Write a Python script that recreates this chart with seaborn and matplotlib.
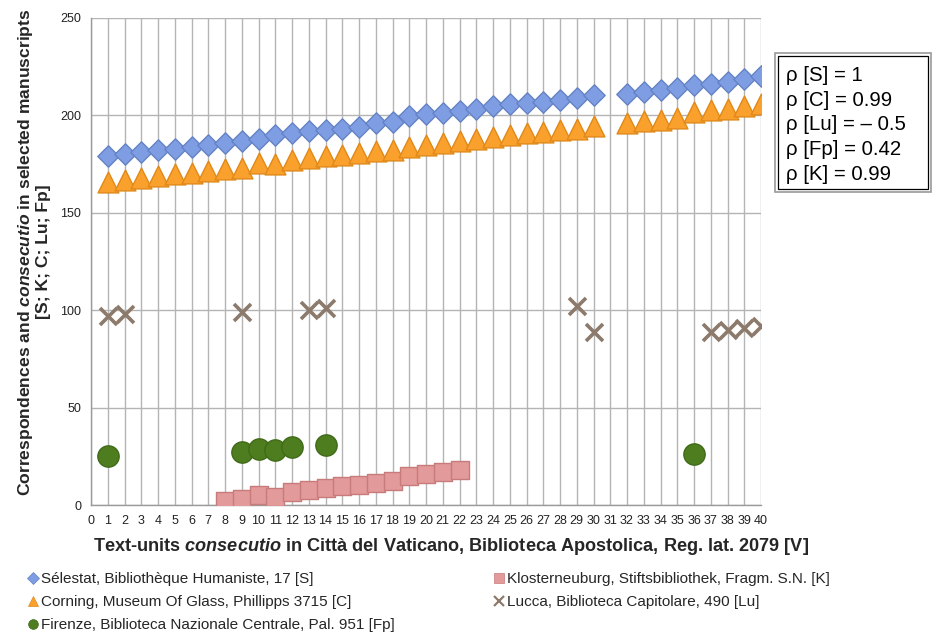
import matplotlib
matplotlib.use("Agg")
import matplotlib.pyplot as plt
import seaborn as sns
import pandas as pd
from matplotlib.patches import Rectangle
from matplotlib.lines import Line2D

# ---- data ----
s_x = [1, 2, 3, 4, 5, 6, 7, 8, 9, 10, 11, 12, 13, 14, 15, 16, 17, 18, 19, 20,
       21, 22, 23, 24, 25, 26, 27, 28, 29, 30, 32, 33, 34, 35, 36, 37, 38, 39, 40]
s_y = [179, 180, 181, 182, 183, 184, 185, 186, 187, 188, 190, 191, 192, 192.5, 193, 194, 196, 196.5, 199.5, 200.5,
       201, 202.5, 203.5, 205, 206, 206.5, 207, 208, 209, 210.5, 211, 212, 213, 214, 215.5, 216, 217, 218.5, 220]
c_x = s_x
c_y = [166, 167, 168, 169, 170, 170.5, 171.5, 172.5, 173, 175.5, 175, 177, 178, 179, 179.5, 180.5, 181.5, 182, 184, 185,
       186, 187, 188, 189, 190, 191, 191.5, 192.5, 193, 194.5, 196, 197, 197.5, 198.5, 202, 203, 203.5, 205, 206]
k_x = [8, 9, 10, 11, 12, 13, 14, 15, 16, 17, 18, 19, 20, 21, 22]
k_y = [2, 3, 5, 4, 6.5, 7.5, 8.5, 9.5, 10.5, 11.5, 12.5, 15, 16, 17, 18]
lu_x = [1, 2, 9, 13, 14, 29, 30, 37, 38, 39, 40]
lu_y = [97, 98, 99, 100, 101, 102, 89, 89, 90, 91, 92]
fp_x = [1, 9, 10, 11, 12, 14, 36]
fp_y = [25, 27, 29, 28, 30, 31, 26]

labels = {
    "S": "Sélestat, Bibliothèque Humaniste, 17 [S]",
    "K": "Klosterneuburg, Stiftsbibliothek, Fragm. S.N. [K]",
    "C": "Corning, Museum Of Glass, Phillipps 3715 [C]",
    "Lu": "Lucca, Biblioteca Capitolare, 490 [Lu]",
    "Fp": "Firenze, Biblioteca Nazionale Centrale, Pal. 951 [Fp]",
}
rho_lines = ["ρ [S] = 1", "ρ [C] = 0.99", "ρ [Lu] = – 0.5", "ρ [Fp] = 0.42", "ρ [K] = 0.99"]
x_ticks = list(range(0, 41))
y_ticks = [0, 50, 100, 150, 200, 250]

# ---- style ----
sns.set_style("white")
plt.rcParams["font.family"] = ["Liberation Sans", "DejaVu Sans"]
plt.rcParams["mathtext.fontset"] = "custom"
plt.rcParams["mathtext.it"] = "Liberation Sans:italic:bold"
plt.rcParams["mathtext.rm"] = "Liberation Sans:bold"
plt.rcParams["mathtext.bf"] = "Liberation Sans:bold"

fig = plt.figure(figsize=(9.33, 6.33), dpi=100)
ax = fig.add_axes([91 / 933, 1 - 505 / 633, (761 - 91) / 933, (505 - 18) / 633])

styles = {
    "S": dict(marker="D", s=118, color="#7e9de2", edgecolor="#6482c4"),
    "C": dict(marker="^", s=225, color="#f9a12c", edgecolor="#e0891a"),
    "K": dict(marker="s", s=185, color="#e39a9a", edgecolor="#c77b7b"),
    "Lu": dict(marker="x", s=150, color="#8c7a6c"),
    "Fp": dict(marker="o", s=235, color="#4e7d1f", edgecolor="#3f6a18"),
}
series = {
    "S": (s_x, s_y), "C": (c_x, c_y), "K": (k_x, k_y),
    "Lu": (lu_x, lu_y), "Fp": (fp_x, fp_y),
}
for key in ["S", "C", "K", "Fp", "Lu"]:
    xs, ys = series[key]
    df = pd.DataFrame({"x": xs, "y": ys})
    st = styles[key]
    if key == "Lu":
        sns.scatterplot(data=df, x="x", y="y", ax=ax, marker="x", s=st["s"],
                        color=st["color"], linewidth=2.6, zorder=3)
    else:
        sns.scatterplot(data=df, x="x", y="y", ax=ax, marker=st["marker"], s=st["s"],
                        color=st["color"], edgecolor=st["edgecolor"], linewidth=1.0, zorder=3)

ax.set_xlim(0, 40)
ax.set_ylim(0, 250)
ax.set_xticks(x_ticks)
ax.set_yticks(y_ticks)
ax.set_xticklabels([str(t) for t in x_ticks], fontsize=9)
ax.set_yticklabels([str(t) for t in y_ticks], fontsize=9)
ax.grid(True, color="#b4b4b4", linewidth=1.0)
ax.set_axisbelow(True)
for sp in ["top", "right"]:
    ax.spines[sp].set_visible(False)
for sp in ["left", "bottom"]:
    ax.spines[sp].set_color("#9a9a9a")
    ax.spines[sp].set_linewidth(1.0)
ax.tick_params(axis="both", direction="out", length=4, color="#9a9a9a", width=1.0, pad=3, labelcolor="#222222")

ax.set_xlabel(r"Text-units $\mathit{consecutio}$ in Città del Vaticano, Biblioteca Apostolica, Reg. lat. 2079 [V]",
              fontsize=13.1, fontweight="bold")
ax.xaxis.set_label_coords((451 - 91) / 670, -(536 - 505) / 487)
ax.set_ylabel("Correspondences and $\\mathit{consecutio}$ in selected manuscripts\n[S; K; C; Lu; Fp]",
              fontsize=12.6, fontweight="bold", linespacing=1.05)
ax.yaxis.set_label_coords(-(91 - 51) / 670, (505 - 252) / 487)

# ---- legends ----
def handle(key, size):
    st = styles[key]
    if key == "Lu":
        return Line2D([], [], linestyle="none", marker="x", markersize=size, color=st["color"], markeredgewidth=1.6)
    return Line2D([], [], linestyle="none", marker=st["marker"], markersize=size,
                  markerfacecolor=st["color"], markeredgecolor=st["edgecolor"], markeredgewidth=0.5)

leg_font = ["Liberation Sans Narrow", "Liberation Sans", "DejaVu Sans"]
common = dict(frameon=False, handlelength=0.6, handletextpad=0.25, labelspacing=0.6,
              borderpad=0, borderaxespad=0, prop={"family": leg_font, "size": 11})
fig.legend([handle("S", 6), handle("C", 7), handle("Fp", 7)],
           [labels["S"], labels["C"], labels["Fp"]],
           loc="upper left", bbox_to_anchor=(28 / 933, 1 - 572 / 633), **common)
fig.legend([handle("K", 7), handle("Lu", 7)],
           [labels["K"], labels["Lu"]],
           loc="upper left", bbox_to_anchor=(494 / 933, 1 - 572 / 633), **common)

# ---- rho box ----
fig.patches.append(Rectangle((775 / 933, 1 - 192 / 633), (931 - 775) / 933, (192 - 53) / 633,
                             transform=fig.transFigure, facecolor="white", edgecolor="#9a9a9a", linewidth=1.2))
fig.patches.append(Rectangle((778 / 933, 1 - 189 / 633), (928 - 778) / 933, (189 - 56) / 633,
                             transform=fig.transFigure, facecolor="white", edgecolor="black", linewidth=0.9))
fig.text(786 / 933, 1 - 66 / 633, "\n".join(rho_lines), fontsize=14.7, va="top", ha="left",
         linespacing=1.38, color="black")

fig.savefig("out.png", dpi=100)
